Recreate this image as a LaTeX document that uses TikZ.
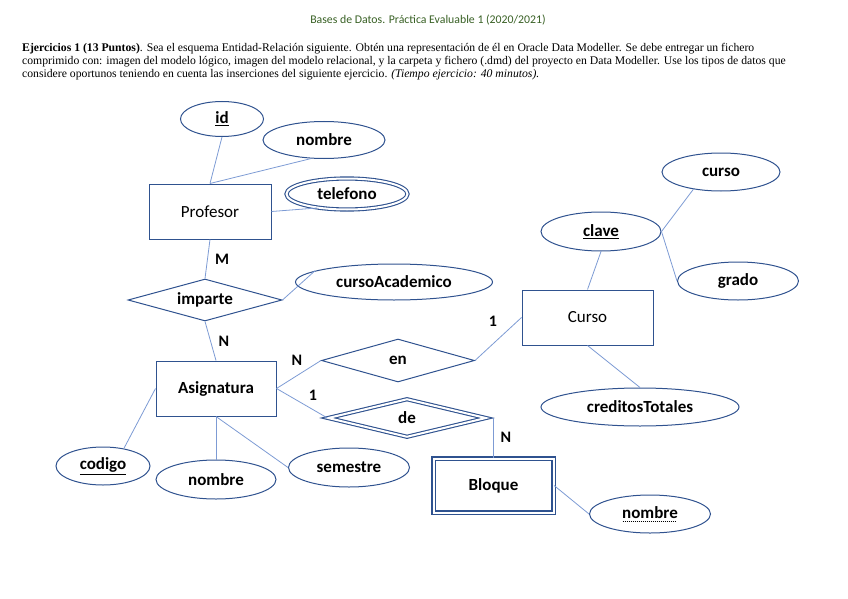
\documentclass[tikz,border=0pt]{standalone}
\usepackage{fontspec}
\setmainfont{Liberation Serif}
\newfontfamily\calibri{Carlito}
\usetikzlibrary{shapes.geometric}
\definecolor{erline}{RGB}{47,82,143}
\definecolor{erlink}{RGB}{125,155,212}
\definecolor{headgreen}{RGB}{56,96,36}
\newcommand\dashunder[1]{\setbox0\hbox{#1}\leavevmode\rlap{\lower2.5pt\hbox to\wd0{\leaders\hbox to 2pt{\hss\vrule width1pt height0.7pt\hss}\hfill}}\box0}
\begin{document}
\begin{tikzpicture}[x=1pt, y=-1pt,
			every node/.style={font=\calibri\bfseries\fontsize{17}{20}\selectfont, inner sep=0pt},
			entity/.style={rectangle, draw=erline, line width=1pt},
			attrib/.style={ellipse, draw=erline, line width=1pt},
			rel/.style={diamond, draw=erline, line width=1pt},
			card/.style={font=\calibri\bfseries\fontsize{16}{18}\selectfont},
			para/.style={font=\fontsize{11.7}{13}\selectfont, anchor=base west},
			link/.style={draw=erlink, line width=0.8pt}
			]
			\useasboundingbox (0,0) rectangle (848,599);
			
			% Text
			\node[font=\calibri\fontsize{11.8}{14}\selectfont, text=headgreen] (head) at (428,20) {Bases de Datos. Práctica Evaluable 1 (2020/2021)};
			\node[para] (line1) at (22,52) {\textbf{Ejercicios 1 (13 Puntos)}. Sea el esquema Entidad-Relación siguiente. Obtén una representación de él en Oracle Data Modeller. Se debe entregar un fichero};
			\node[para] (line2) at (22,65) {comprimido con: imagen del modelo lógico, imagen del modelo relacional, y la carpeta y fichero (.dmd) del proyecto en Data Modeller. Use los tipos de datos que};
			\node[para] (line3) at (22,78) {considere oportunos teniendo en cuenta las inserciones del siguiente ejercicio. \textit{(Tiempo ejercicio: 40 minutos).}};
			
			% Nodes
			\node[entity, minimum width=122, minimum height=55, font=\calibri\fontsize{17}{20}\selectfont] (prof) at (210,211.5) {Profesor};
			\node[attrib, minimum width=83, minimum height=35] (id) at (222,119) {\underline{id}};
			\node[attrib, minimum width=122, minimum height=37] (pnombre) at (324,140) {nombre};
			\node[attrib, double=white, double distance=2pt, line width=1.1pt, minimum width=121, minimum height=31] (telefono) at (347,194) {telefono};
			
			\node[rel, aspect=3.6, minimum width=154, minimum height=42] (imparte) at (205,300) {imparte};
			\node[attrib, minimum width=197, minimum height=36] (cacad) at (394,282) {cursoAcademico};
			
			\node[entity, minimum width=120, minimum height=55] (asig) at (216,388.5) {Asignatura};
			\node[attrib, minimum width=94, minimum height=38] (codigo) at (103,466) {\underline{codigo}};
			\node[attrib, minimum width=120, minimum height=39] (anombre) at (216,479.5) {nombre};
			\node[attrib, minimum width=121, minimum height=39] (semestre) at (349,467.5) {semestre};
			
			\node[rel, aspect=3.5, minimum width=153, minimum height=43] (en) at (398,360.5) {en};
			\node[rel, aspect=3.9, double=white, double distance=2pt, line width=1.1pt, minimum width=158, minimum height=38] (de) at (407,418) {de};
			
			\node[entity, minimum width=131, minimum height=55, font=\calibri\fontsize{17}{20}\selectfont] (curso) at (587.5,317.5) {Curso};
			\node[attrib, minimum width=120, minimum height=39] (clave) at (601,231.5) {\underline{clave}};
			\node[attrib, minimum width=118, minimum height=38] (ccurso) at (721,172) {curso};
			\node[attrib, minimum width=121, minimum height=38] (grado) at (738,281) {grado};
			\node[attrib, minimum width=198, minimum height=38] (creditos) at (640,407) {creditosTotales};
			
			\node[entity, double=white, double distance=2pt, line width=1.2pt, minimum width=120, minimum height=54] (bloque) at (493.5,485.5) {Bloque};
			\node[attrib, minimum width=121, minimum height=38] (bnombre) at (650,514) {\dashunder{nombre}};
			
			% Cardinalities
			\node[card] (cM) at (222,259) {M};
			\node[card] (cN1) at (224,341) {N};
			\node[card] (cN2) at (297,360) {N};
			\node[card] (c1a) at (313,395) {1};
			\node[card] (c1b) at (493,321) {1};
			\node[card] (cN3) at (506,437) {N};
			
			% Edges
			\draw[link] (id.south) -- (prof.north);
			\draw[link] (pnombre.235) -- (prof.north);
			\draw[link] (prof.east) -- (telefono.205);
			\draw[link] (prof.south) -- (imparte.north);
			\draw[link] (imparte.east) -- (cacad.172);
			\draw[link] (imparte.south) -- (asig.north);
			
			\draw[link] (asig.east) -- (en.west);
			\draw[link] (asig.east) -- (de.west);
			\draw[link] (asig.west) -- (codigo.40);
			\draw[link] (asig.south) -- (anombre.north);
			\draw[link] (asig.south) -- (semestre.west);
			
			\draw[link] (en.east) -- (curso.west);
			\draw[link] (curso.north) -- (clave.south);
			\draw[link] (clave.east) -- (ccurso.212);
			\draw[link] (clave.east) -- (grado.west);
			\draw[link] (curso.south) -- (creditos.north);
			
			\draw[link] (bloque.north) -- (bloque.north |- de.east);
			\draw[link] (bloque.east) -- (bnombre.west);
			
		\end{tikzpicture}
\end{document}
